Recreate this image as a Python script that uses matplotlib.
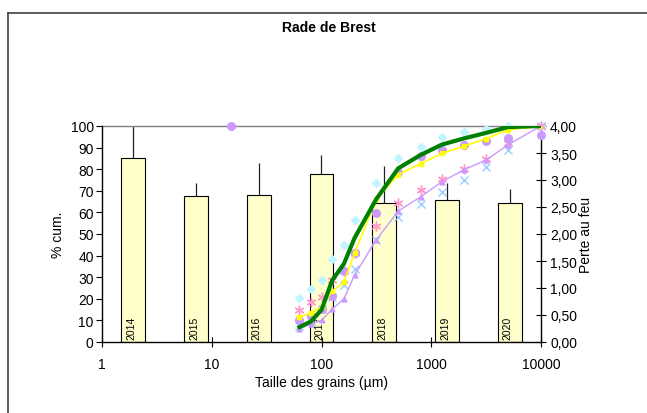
import numpy as np
import matplotlib
matplotlib.use("Agg")
import matplotlib.pyplot as plt
from matplotlib.lines import Line2D
from matplotlib.ticker import FixedLocator, FuncFormatter

plt.rcParams["font.family"] = ["Liberation Sans", "DejaVu Sans"]

# sieve sizes (µm) and cumulative passing (%)
sizes = [63, 80, 100, 125, 160, 200, 315, 500, 800, 1250, 2000, 3150, 5000, 10000]
green = [6.9, 9.5, 14.9, 28.5, 36.2, 48.1, 66.1, 80.4, 86.6, 91.4, 94.3, 96.8, 99.5, 100]
yellow = [11.5, 13.5, 16.0, 23.5, 27.7, 41.0, 66.0, 77.5, 82.6, 87.3, 90.7, 94.1, 98.3, 100]
lilac_tri = [6.1, 8.4, 10.0, 15.2, 19.9, 31.0, 47.3, 60.6, 67.2, 74.2, 79.8, 84.2, 91.3, 100]
lilac_dot = [10.0, 12.0, 15.4, 21.5, 32.8, 41.1, 59.9, 78.9, 86.3, 89.0, 91.4, 92.9, 94.3, 95.8]
pink = [14.6, 18.3, 21.0, 28.5, 33.0, 41.0, 53.5, 64.3, 70.4, 75.5, 80.0, 84.5, 92.0, 100]
blue = [7.5, 9.5, 15.4, 21.0, 26.2, 33.9, 47.0, 58.1, 63.9, 69.6, 75.2, 80.9, 88.9, 100]
cyan = [20.5, 24.6, 28.5, 38.5, 45.0, 56.5, 73.5, 85.1, 90.4, 94.8, 97.1, 98.6, 99.8, 100]
stray_size = [15]
stray_dot = [100]

# loss on ignition per year
years = ["2014", "2015", "2016", "2017", "2018", "2019", "2020"]
perte = [3.41, 2.70, 2.72, 3.11, 2.57, 2.63, 2.57]
perte_err = [0.59, 0.24, 0.59, 0.36, 0.69, 0.32, 0.27]

FS = 10

fig = plt.figure(figsize=(6.47, 4.14), dpi=100)
rect = [102 / 647, 71 / 414, 439 / 647, 216 / 414]

# outer chart frame (left and top edges)
fig.add_artist(Line2D([8 / 647, 8 / 647], [0, 1 - 14 / 414], color="#404040", lw=1.2))
fig.add_artist(Line2D([8 / 647, 1], [1 - 14 / 414, 1 - 14 / 414], color="#404040", lw=1.2))

# bars on secondary axis
axb = fig.add_axes(rect)
pos = np.arange(len(years)) + 0.5
axb.bar(pos, perte, width=0.38, color="#FFFFCC", edgecolor="black", linewidth=0.8, zorder=2)
axb.errorbar(pos, perte, yerr=[np.zeros(len(perte)), perte_err], fmt="none",
             ecolor="#222222", elinewidth=0.9, capsize=0, zorder=1)
for p, yr in zip(pos, years):
    axb.text(p - 0.03, 0.05, yr, rotation=90, ha="center", va="bottom", fontsize=7.5, zorder=3)
axb.set_xlim(0, len(years))
axb.set_ylim(0, 4)
axb.xaxis.set_visible(False)
axb.yaxis.tick_right()
axb.yaxis.set_label_position("right")
axb.set_yticks(np.arange(0, 4.01, 0.5))
axb.yaxis.set_major_formatter(FuncFormatter(lambda v, _: f"{v:.2f}".replace(".", ",")))
axb.tick_params(axis="y", direction="inout", length=7, width=0.8, labelsize=FS, pad=3)
axb.set_ylabel("Perte au feu", fontsize=FS, labelpad=1)
for s in ["left", "bottom"]:
    axb.spines[s].set_visible(False)
axb.spines["right"].set_linewidth(1)
axb.spines["top"].set_color("#808080")
axb.spines["top"].set_linewidth(1)

# grain size curves
ax = fig.add_axes(rect, facecolor="none")
ax.set_xscale("log")
ax.set_xlim(1, 10000)
ax.set_ylim(0, 100)

ax.plot(sizes, cyan, ls="none", marker="D", ms=4.5, color="#C0F4FF", clip_on=False)
ax.plot(sizes, blue, ls="none", marker="x", ms=5.5, mew=1, color="#99CCFF", clip_on=False)
ax.plot(sizes, pink, ls="none", marker=(6, 2, 0), ms=7, mew=1, color="#FF99CC", clip_on=False)
ax.plot(sizes, lilac_dot, ls="none", marker="o", ms=5.5, color="#CC99FF", clip_on=False)
ax.plot(stray_size, stray_dot, ls="none", marker="o", ms=5.5, color="#CC99FF", clip_on=False)
ax.plot(sizes, lilac_tri, color="#CC99FF", lw=1, marker="^", ms=3.5)
ax.plot(sizes, yellow, color="#FFFF00", lw=1.2, marker="s", ms=3)
ax.plot(sizes, green, color="#008000", lw=3)

ax.set_yticks(np.arange(0, 101, 10))
ax.xaxis.set_major_locator(FixedLocator([1, 10, 100, 1000, 10000]))
ax.xaxis.set_minor_locator(FixedLocator([]))
ax.xaxis.set_major_formatter(FuncFormatter(lambda v, _: f"{v:g}"))
ax.tick_params(axis="y", direction="out", length=4, width=0.8, labelsize=FS, pad=2, right=False)
ax.tick_params(axis="x", direction="inout", length=7, width=0.8, labelsize=FS, pad=7)
ax.set_ylabel("% cum.", fontsize=FS, labelpad=4)
ax.set_xlabel("Taille des grains (µm)", fontsize=FS, labelpad=3)
for s in ["top", "right"]:
    ax.spines[s].set_visible(False)
ax.spines["left"].set_linewidth(1)
ax.spines["bottom"].set_linewidth(1)

fig.text(329 / 647, 1 - 28 / 414, "Rade de Brest", ha="center", va="center",
         fontsize=FS, fontweight="bold")

fig.savefig("out.png", dpi=100)
